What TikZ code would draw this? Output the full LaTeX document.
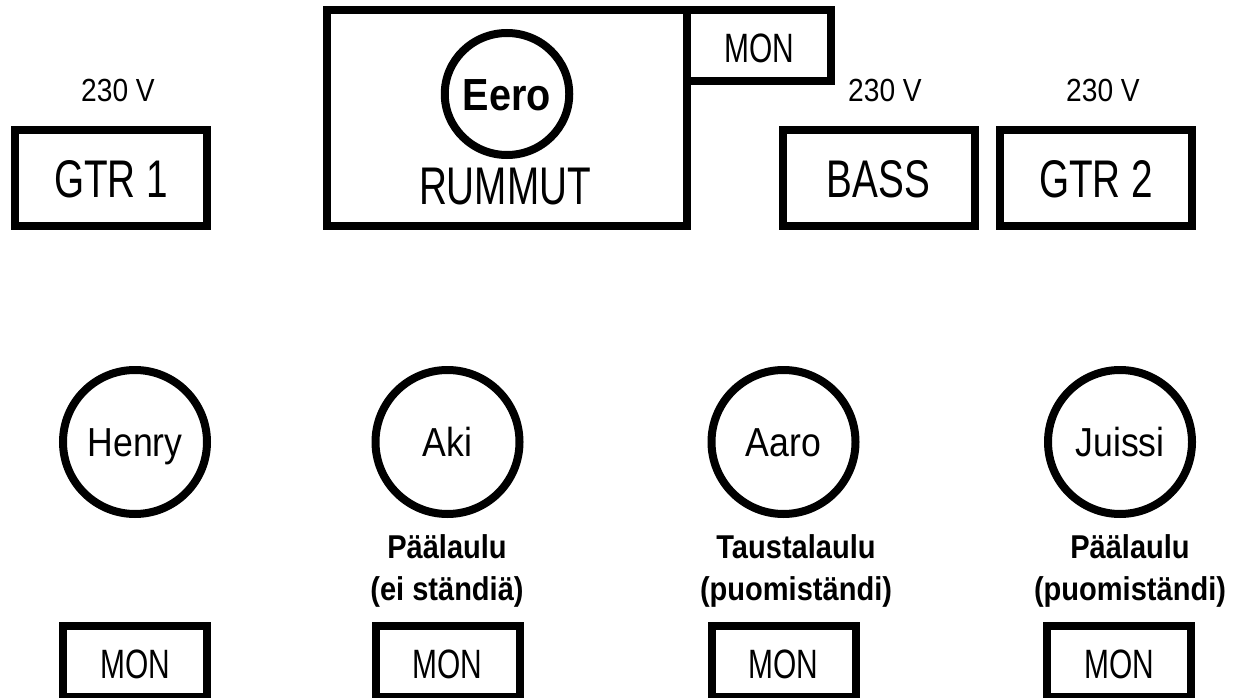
\documentclass[tikz,border=0pt]{standalone}
\usepackage{fontspec}
\usetikzlibrary{shapes.geometric}
\setmainfont{Liberation Sans}
\newfontfamily\capsf{Liberation Sans}[FakeStretch=0.73]
\newfontfamily\lowf{Liberation Sans}[FakeStretch=0.88]
\begin{document}
\begin{tikzpicture}[x=1pt,y=-1pt,
  every node/.style={inner sep=0pt, outer sep=0pt},
  ampbox/.style={draw, line width=8pt, rectangle, minimum width=192pt, minimum height=96pt,
    font=\capsf\fontsize{53}{62}\selectfont, text height=38pt, text depth=0pt},
  monbox/.style={draw, line width=8pt, rectangle, minimum width=144pt, minimum height=71pt,
    font=\capsf\fontsize{41}{48}\selectfont, text height=34.4pt, text depth=0pt},
  drumbox/.style={draw, line width=8pt, rectangle, minimum width=360pt, minimum height=216pt},
  drumhead/.style={draw, line width=8pt, ellipse, minimum width=116pt, minimum height=122pt,
    font=\lowf\bfseries\fontsize{45}{54}\selectfont, text height=32.2pt, text depth=0pt},
  bigtext/.style={font=\capsf\fontsize{53}{62}\selectfont, anchor=base},
  persona/.style={draw, line width=8pt, circle, minimum size=144pt,
    font=\lowf\fontsize{40.5}{48}\selectfont, text height=29pt, text depth=0pt},
  volt/.style={font=\lowf\fontsize{32}{38}\selectfont, anchor=base},
  rolelbl/.style={font=\lowf\bfseries\fontsize{33}{40}\selectfont, anchor=base}
]
\useasboundingbox (0,0) rectangle (1234,698);
\fill[white] (0,0) rectangle (1234,698);

% top row
\node[volt] (v1) at (118,102) {230 V};
\node[ampbox] (gtr1) at (111,178) {GTR 1};
\node[drumbox] (drums) at (507,118) {};
\node[monbox] (mon0) at (759,45.5) {MON};
\node[drumhead] (eero) at (507,94) {Eero};
\node[bigtext] (rummut) at (505,204) {RUMMUT};
\node[volt] (v2) at (885,102) {230 V};
\node[ampbox] (bass) at (878.5,178) {BASS};
\node[volt] (v3) at (1103,102) {230 V};
\node[ampbox] (gtr2) at (1096,178) {GTR 2};

% bottom row
\node[persona] (henry) at (135,442) {Henry};
\node[persona] (aki) at (447.5,442) {Aki};
\node[persona] (aaro) at (783.5,442) {Aaro};
\node[persona] (juissi) at (1120,442) {Juissi};

\node[rolelbl] (akiA) at (447,558) {Päälaulu};
\node[rolelbl] (akiB) at (447,600) {(ei ständiä)};
\node[rolelbl] (aaroA) at (796,558) {Taustalaulu};
\node[rolelbl] (aaroB) at (796,600) {(puomiständi)};
\node[rolelbl] (juissiA) at (1130,558) {Päälaulu};
\node[rolelbl] (juissiB) at (1130,600) {(puomiständi)};

\node[monbox] (mon1) at (135,661.5) {MON};
\node[monbox] (mon2) at (447.5,661.5) {MON};
\node[monbox] (mon3) at (783.5,661.5) {MON};
\node[monbox] (mon4) at (1119,661.5) {MON};
\end{tikzpicture}
\end{document}
